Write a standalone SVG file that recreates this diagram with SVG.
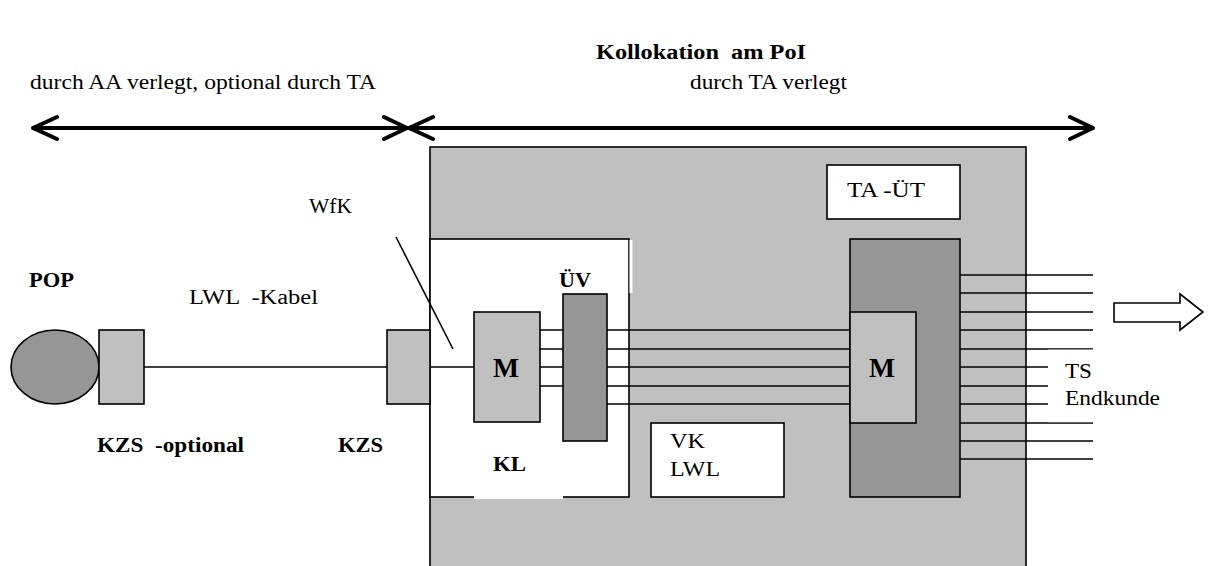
<svg xmlns="http://www.w3.org/2000/svg" width="1212" height="566" viewBox="0 0 1212 566">
  <style>
    .t { font-family: "Liberation Serif", "Times New Roman", serif; font-size: 20.5px; fill: #000; white-space: pre; }
    .b { font-weight: bold; font-size: 20px; }
    .big { font-size: 28px; }
    .box { stroke: #000; stroke-width: 1.6; }
    .light { fill: #c0c0c0; }
    .dark { fill: #969696; }
    .white { fill: #fff; }
    .wire { stroke: #000; stroke-width: 1.6; fill: none; }
    .span { stroke: #000; stroke-width: 4; fill: none; stroke-linecap: round; stroke-linejoin: round; }
  </style>

  <!-- headings -->
  <text class="t b" x="596" y="59" textLength="210" lengthAdjust="spacingAndGlyphs">Kollokation  am PoI</text>
  <text class="t" x="30" y="89" textLength="346" lengthAdjust="spacingAndGlyphs">durch AA verlegt, optional durch TA</text>
  <text class="t" x="690" y="89" textLength="157" lengthAdjust="spacingAndGlyphs">durch TA verlegt</text>

  <!-- span arrows -->
  <g id="span-arrows">
    <path class="span" d="M33,128 H407 M57,117 L33,128 L57,139 M384,117 L407,128 L384,139"/>
    <path class="span" d="M409,128 H1093 M433,117 L409,128 L433,139 M1070,117 L1093,128 L1070,139"/>
  </g>

  <!-- collocation room -->
  <g id="kollokation">
    <rect class="box light" x="430" y="147" width="596" height="430"/>
  </g>

  <g id="ta-ut">
    <rect class="box white" x="827" y="165" width="133" height="54"/>
    <text class="t" x="847" y="197" textLength="78" lengthAdjust="spacingAndGlyphs">TA -ÜT</text>
  </g>

  <g id="kl">
    <rect class="box white" x="430" y="239" width="199" height="258"/>
    <rect class="white" x="629.5" y="240" width="3" height="53"/>
    <rect class="white" x="474" y="495" width="89" height="4"/>
    <text class="t b" x="493" y="471" textLength="33" lengthAdjust="spacingAndGlyphs">KL</text>
  </g>

  <g id="vk-lwl">
    <rect class="box white" x="651" y="423" width="133" height="74"/>
    <text class="t" x="670" y="448" textLength="35" lengthAdjust="spacingAndGlyphs">VK</text>
    <text class="t" x="670" y="476" textLength="50" lengthAdjust="spacingAndGlyphs">LWL</text>
  </g>

  <!-- connectors -->
  <g id="connectors">
    <path class="wire" d="M144,367 H387"/>
    <path class="wire" d="M430,367 H474"/>
    <path class="wire" d="M540,330 H563 M540,349 H563 M540,367 H563 M540,386 H563"/>
    <path class="wire" d="M607,330 H850 M607,349 H850 M607,367 H850 M607,386 H850 M607,404 H850"/>
    <path class="wire" d="M960,275 H1093 M960,293 H1093 M960,312 H1093 M960,330 H1093 M960,349 H1093 M960,367 H1093 M960,386 H1093 M960,404 H1093 M960,423 H1093 M960,441 H1093 M960,459 H1093"/>
    <path class="wire" d="M396,237 L453,349" stroke-width="1.4"/>
  </g>

  <g id="pop">
    <ellipse class="box dark" cx="55" cy="367" rx="44" ry="37"/>
    <text class="t b" x="29" y="287" textLength="45" lengthAdjust="spacingAndGlyphs">POP</text>
  </g>

  <g id="kzs-optional">
    <rect class="box light" x="99" y="330" width="45" height="74"/>
    <text class="t b" x="97" y="452" textLength="147" lengthAdjust="spacingAndGlyphs">KZS  -optional</text>
  </g>

  <text class="t" x="189" y="304" textLength="129" lengthAdjust="spacingAndGlyphs">LWL  -Kabel</text>

  <g id="kzs">
    <rect class="box light" x="387" y="330" width="43" height="74"/>
    <text class="t b" x="338" y="452" textLength="45" lengthAdjust="spacingAndGlyphs">KZS</text>
  </g>

  <text class="t" x="309" y="213" textLength="43" lengthAdjust="spacingAndGlyphs">WfK</text>

  <g id="m-left">
    <rect class="box light" x="474" y="312" width="66" height="110"/>
    <text class="t b big" x="493" y="377" textLength="26" lengthAdjust="spacingAndGlyphs">M</text>
  </g>

  <g id="uv">
    <rect class="box dark" x="563" y="294" width="44" height="147"/>
    <text class="t b" x="559" y="287" textLength="32" lengthAdjust="spacingAndGlyphs">ÜV</text>
  </g>

  <g id="verteiler-rechts">
    <rect class="box dark" x="850" y="239" width="110" height="258"/>
  </g>

  <g id="m-right">
    <rect class="box light" x="850" y="312" width="66" height="111"/>
    <text class="t b big" x="869" y="377" textLength="26" lengthAdjust="spacingAndGlyphs">M</text>
  </g>

  <g id="ts-endkunde">
    <rect class="white" x="1048" y="349.6" width="47" height="72.6"/>
    <text class="t" x="1065" y="378" textLength="27" lengthAdjust="spacingAndGlyphs">TS</text>
    <text class="t" x="1065" y="405" textLength="95" lengthAdjust="spacingAndGlyphs">Endkunde</text>
  </g>

  <g id="richtung">
    <polygon class="box white" points="1114,303 1180,303 1180,294 1203,312 1180,330 1180,322 1114,322"/>
  </g>
</svg>
